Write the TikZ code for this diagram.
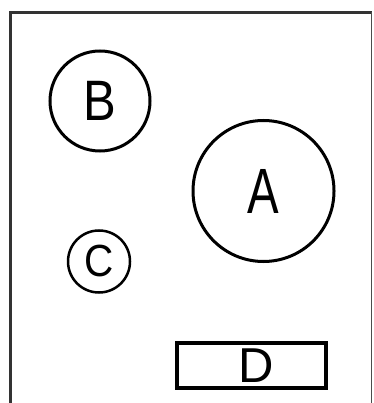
\documentclass[tikz,border=0pt]{standalone}
\usepackage{fontspec}
\usepackage{graphicx}
\setmainfont{Liberation Sans}
\begin{document}
\begin{tikzpicture}[x=1pt,y=-1pt,
  ring/.style={circle,draw=black,line width=3pt,inner sep=0pt},
  box/.style={rectangle,draw=black,line width=3.2pt,inner sep=0pt},
  frameline/.style={draw=black!80,line width=3pt}]
\useasboundingbox (0,0) rectangle (373,403);
\clip (0,0) rectangle (373,403);
\draw[frameline] (10.5,410) -- (10.5,12.5) -- (371.5,12.5);
\draw[draw=black!70,line width=1.3pt] (371.5,12.5) -- (371.5,410);
\node[ring,minimum size=100pt] (B) at (100,101) {\fontsize{57}{57}\selectfont\scalebox{0.86}[1]{B}};
\node[ring,minimum size=141pt] (A) at (263.5,191) {\fontsize{64}{64}\selectfont\scalebox{0.74}[1]{A}};
\node[ring,minimum size=62pt,line width=2.5pt] (C) at (99,261.5) {\fontsize{45}{45}\selectfont\scalebox{0.9}[1]{C}};
\node[box,minimum width=149pt,minimum height=45pt] (D) at (251.5,365.5) {};
\node (Dl) at (256,365.5) {\fontsize{49}{49}\selectfont D};
\end{tikzpicture}
\end{document}
